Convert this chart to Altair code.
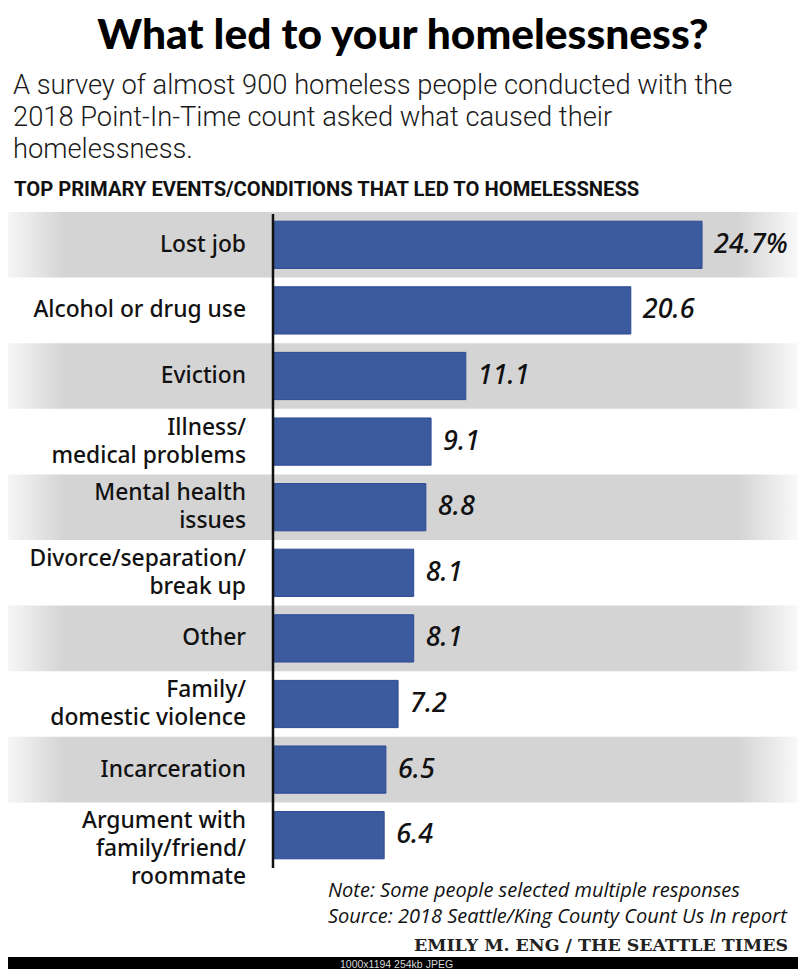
import altair as alt
import pandas as pd

# ---------------- data ----------------
title_text = "What led to your homelessness?"
subtitle_lines = [
    "A survey of almost 900 homeless people conducted with the",
    "2018 Point-In-Time count asked what caused their",
    "homelessness.",
]
header_text = "TOP PRIMARY EVENTS/CONDITIONS THAT LED TO HOMELESSNESS"
note_lines = [
    "Note: Some people selected multiple responses",
    "Source: 2018 Seattle/King County Count Us In report",
]
credit_text = "EMILY M. ENG / THE SEATTLE TIMES"
viewer_text = "1000x1194 254kb JPEG"

categories = [
    "Lost job",
    "Alcohol or drug use",
    "Eviction",
    "Illness/\nmedical problems",
    "Mental health\nissues",
    "Divorce/separation/\nbreak up",
    "Other",
    "Family/\ndomestic violence",
    "Incarceration",
    "Argument with\nfamily/friend/\nroommate",
]
values = [24.7, 20.6, 11.1, 9.1, 8.8, 8.1, 8.1, 7.2, 6.5, 6.4]

# ---------------- layout ----------------
W, H = 790, 961
ROW_TOP, ROW_BOTTOM = 204, 860
X0, PX_PER_UNIT, XMAX = 265, 17.37, 30
n = len(categories)
row_h = (ROW_BOTTOM - ROW_TOP) / n
BAR_PAD = 0.14
LABEL_LH = 28

BAR_COLOR = "#3c5a9e"
BAR_STROKE = "#2c4a92"
BAND = "#d4d4d4"

bars_df = pd.DataFrame({
    "cat": [c.replace("\n", " ") for c in categories],
    "value": values,
    "row": list(range(n)),
})
bars_df["label"] = [f"{v}%" if i == 0 else f"{v}" for i, v in enumerate(values)]

label_rows = []
for i, c in enumerate(categories):
    parts = c.split("\n")
    m = min(len(parts), 2)
    for k, p in enumerate(parts):
        label_rows.append({"row": i, "text": p,
                           "ypos": i + 0.5 + (k - (m - 1) / 2) * LABEL_LH / row_h})
labels_df = pd.DataFrame(label_rows)

xs = alt.Scale(domain=[0, XMAX], range=[X0, X0 + PX_PER_UNIT * XMAX], zero=False, nice=False)
ys = alt.Scale(domain=[0, n], range=[ROW_TOP, ROW_BOTTOM], zero=False, nice=False)

gradient = {
    "gradient": "linear", "x1": 0, "x2": 1, "y1": 0, "y2": 0,
    "stops": [
        {"offset": 0.0, "color": "#f6f6f6"},
        {"offset": 0.072, "color": BAND},
        {"offset": 0.923, "color": BAND},
        {"offset": 1.0, "color": "#f9f9f9"},
    ],
}

base = alt.Chart(bars_df)

bands = base.transform_filter("datum.row % 2 == 0").transform_calculate(
    row_end="datum.row + 1"
).mark_rect(color=gradient).encode(
    x=alt.value(0), x2=alt.value(W),
    y=alt.Y("row:Q", scale=ys, axis=None), y2="row_end:Q",
)

bars = base.transform_calculate(
    zero="0", btop=f"datum.row + {BAR_PAD}", bbot=f"datum.row + 1 - {BAR_PAD}"
).mark_rect(fill=BAR_COLOR, stroke=BAR_STROKE, strokeWidth=1).encode(
    x=alt.X("zero:Q", scale=xs, axis=None), x2="value:Q",
    y=alt.Y("btop:Q", scale=ys, axis=None), y2="bbot:Q",
)

axis_df = pd.DataFrame({"v": [0], "y0": [0.03], "y1": [n]})
axis_line = alt.Chart(axis_df).mark_rule(color="#111", strokeWidth=2.5).encode(
    x=alt.X("v:Q", scale=xs, axis=None),
    y=alt.Y("y0:Q", scale=ys, axis=None), y2="y1:Q",
)

value_labels = base.transform_calculate(ymid="datum.row + 0.5").mark_text(
    align="left", baseline="middle", dx=12, font="Noto Sans", fontSize=27,
    fontStyle="italic", fontWeight=500, color="#111",
).encode(
    x=alt.X("value:Q", scale=xs, axis=None),
    y=alt.Y("ymid:Q", scale=ys, axis=None),
    text="label:N",
)

cat_labels = alt.Chart(labels_df).mark_text(
    align="right", baseline="middle", font="Noto Sans", fontSize=22.8,
    fontWeight=500, color="#111",
).encode(
    x=alt.value(238),
    y=alt.Y("ypos:Q", scale=ys, axis=None),
    text="text:N",
)

# ---------------- annotations ----------------
title = alt.Chart(pd.DataFrame({"t": [title_text]})).mark_text(
    align="center", baseline="alphabetic", font="Lato Black, Lato", fontWeight=900,
    fontSize=42.5, color="#000",
).encode(x=alt.value(395), y=alt.value(41), text="t:N")

SUB_Y0, SUB_LH = 86, 31.8
sub_df = pd.DataFrame({"t": subtitle_lines,
                       "yy": [SUB_Y0 + i * SUB_LH for i in range(len(subtitle_lines))]})
subtitle = alt.Chart(sub_df).mark_text(
    align="left", baseline="alphabetic", font="Roboto", fontWeight=300,
    fontSize=27.3, color="#1a1a1a",
).encode(x=alt.value(5), y=alt.Y("yy:Q", scale=None), text="t:N")

header = alt.Chart(pd.DataFrame({"t": [header_text]})).mark_text(
    align="left", baseline="alphabetic", font="Roboto", fontWeight=700,
    fontSize=20.2, color="#111",
).encode(x=alt.value(6), y=alt.value(188), text="t:N")

NOTE_Y0, NOTE_LH = 889, 26
note_df = pd.DataFrame({"t": note_lines,
                        "yy": [NOTE_Y0 + i * NOTE_LH for i in range(len(note_lines))]})
notes = alt.Chart(note_df).mark_text(
    align="left", baseline="alphabetic", font="Open Sans", fontStyle="italic",
    fontSize=20, color="#111",
).encode(x=alt.value(320), y=alt.Y("yy:Q", scale=None), text="t:N")

credit = alt.Chart(pd.DataFrame({"t": [credit_text]})).mark_text(
    align="right", baseline="alphabetic", font="DejaVu Serif", fontWeight="bold",
    fontSize=17.4, color="#222",
).encode(x=alt.value(780), y=alt.value(943), text="t:N")

frame_df = pd.DataFrame({"k": [0]})
viewer_bar = alt.Chart(frame_df).mark_rect(color="#000").encode(
    x=alt.value(0), x2=alt.value(W), y=alt.value(949), y2=alt.value(H)
)
viewer_label = alt.Chart(pd.DataFrame({"t": [viewer_text]})).mark_text(
    align="left", baseline="alphabetic", font="Liberation Sans", fontSize=10.5,
    color="#d8d8d8",
).encode(x=alt.value(332), y=alt.value(960), text="t:N")

chart = alt.layer(
    bands, bars, axis_line, value_labels, cat_labels,
    title, subtitle, header, notes, credit,
    viewer_bar, viewer_label,
).resolve_scale(y="shared").properties(
    width=W, height=H, padding=0, autosize=alt.AutoSizeParams(type="none"),
    background="white",
).configure_view(stroke=None)

chart.save("out.html", embed_options={"renderer": "svg", "actions": False})
